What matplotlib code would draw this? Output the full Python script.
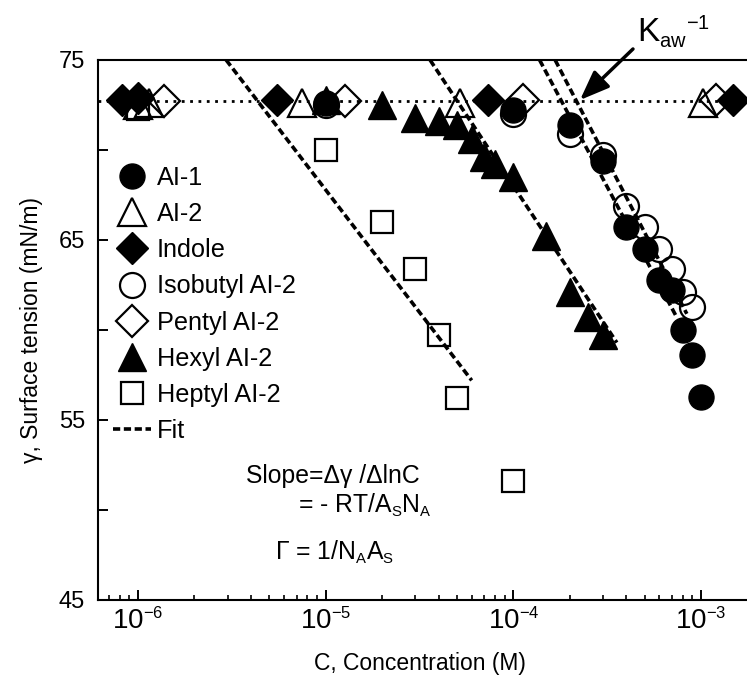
import numpy as np
import matplotlib
matplotlib.use("Agg")
import matplotlib.pyplot as plt
import matplotlib._mathtext as mathtext_internals
from matplotlib.lines import Line2D
from matplotlib.ticker import LogLocator, NullFormatter

plt.rcParams["font.family"] = ["Liberation Sans", "DejaVu Sans"]
plt.rcParams["mathtext.fontset"] = "custom"
plt.rcParams["mathtext.rm"] = "Liberation Sans"
plt.rcParams["mathtext.it"] = "Liberation Sans:italic"
plt.rcParams["mathtext.bf"] = "Liberation Sans:bold"
# smaller sub/superscripts, like the original figure
mathtext_internals.SHRINK_FACTOR = 0.6

# surface tension (mN/m) vs concentration (M)
ai1_c = [1e-5, 1e-4, 2e-4, 3e-4, 4e-4, 5e-4, 6e-4, 7e-4, 8e-4, 9e-4, 1e-3]
ai1_g = [72.6, 72.2, 71.4, 69.4, 65.7, 64.5, 62.8, 62.2, 60.0, 58.6, 56.3]

ai2_c = [1.0e-6, 1.15e-6, 7.5e-6, 5.2e-5, 1.02e-3]
ai2_g = [72.5, 72.6, 72.6, 72.6, 72.6]

indole_c = [8.2e-7, 1.0e-6, 5.5e-6, 7.3e-5, 1.48e-3]
indole_g = [72.8, 72.9, 72.8, 72.8, 72.8]

isobutyl_c = [1e-5, 1e-4, 2e-4, 3e-4, 4e-4, 5e-4, 6e-4, 7e-4, 8e-4, 9e-4]
isobutyl_g = [72.5, 72.0, 70.9, 69.7, 66.9, 65.7, 64.5, 63.4, 62.1, 61.3]

pentyl_c = [1.38e-6, 1.27e-5, 1.13e-4, 1.2e-3]
pentyl_g = [72.7, 72.7, 72.8, 72.8]

hexyl_c = [1e-5, 2e-5, 3e-5, 4e-5, 5e-5, 6e-5, 7e-5, 8e-5, 1e-4, 1.5e-4, 2e-4, 2.5e-4, 3e-4]
hexyl_g = [72.8, 72.5, 71.8, 71.6, 71.4, 70.6, 69.6, 69.2, 68.5, 65.2, 62.1, 60.7, 59.7]

heptyl_c = [1e-6, 1e-5, 2e-5, 3e-5, 4e-5, 5e-5, 1e-4]
heptyl_g = [72.3, 70.0, 66.0, 63.4, 59.7, 56.2, 51.6]

# fitted lines (end points)
fit_heptyl_c = [2.95e-6, 6.0e-5]
fit_heptyl_g = [75.0, 57.2]
fit_hexyl_c = [3.6e-5, 3.56e-4]
fit_hexyl_g = [75.0, 59.3]
fit_ai1_c = [1.38e-4, 7.43e-4]
fit_ai1_g = [75.0, 60.7]
fit_isobutyl_c = [1.67e-4, 8.4e-4]
fit_isobutyl_g = [75.0, 60.9]

water_g = 72.7

fig = plt.figure(figsize=(7.47, 6.88), dpi=100)
ax = fig.add_axes([97.7 / 747, 1 - 600 / 688, (747 - 97.7) / 747, 540 / 688])
ax.set_xscale("log")
ax.set_xlim(6.1e-7, 1.758e-3)
ax.set_ylim(45, 75)

# reference line for pure water
ax.axhline(water_g, color="black", lw=2, linestyle=(0, (1, 2)), zorder=1)

ms_circle = 18
ms_tri = 20
ms_dia = 16
ms_sq = 16
mew = 1.6
k = "black"

ax.plot(hexyl_c, hexyl_g, "^", ms=ms_tri, color=k, zorder=3)
ax.plot(heptyl_c, heptyl_g, "s", ms=ms_sq, mfc="none", mec=k, mew=mew, zorder=3)
ax.plot(isobutyl_c, isobutyl_g, "o", ms=ms_circle, mfc="none", mec=k, mew=mew, zorder=3)
ax.plot(indole_c, indole_g, "D", ms=ms_dia, color=k, zorder=3)
ax.plot(ai2_c, ai2_g, "^", ms=ms_tri, mfc="none", mec=k, mew=mew, zorder=4)
ax.plot(pentyl_c, pentyl_g, "D", ms=ms_dia, mfc="none", mec=k, mew=mew, zorder=4)
ax.plot(ai1_c, ai1_g, "o", ms=ms_circle, color=k, zorder=4)

fit_style = dict(color=k, lw=2.6, linestyle=(0, (2, 1)), zorder=5)
for fc, fg in [(fit_heptyl_c, fit_heptyl_g), (fit_hexyl_c, fit_hexyl_g),
               (fit_ai1_c, fit_ai1_g), (fit_isobutyl_c, fit_isobutyl_g)]:
    ax.plot(fc, fg, **fit_style)

# axes styling
ax.spines["right"].set_visible(False)
for s in ["left", "bottom", "top"]:
    ax.spines[s].set_linewidth(1.5)

ax.set_xticks([1e-6, 1e-5, 1e-4, 1e-3])
ax.set_xticklabels([r"$\mathregular{10^{-6}}$", r"$\mathregular{10^{-5}}$",
                    r"$\mathregular{10^{-4}}$", r"$\mathregular{10^{-3}}$"], fontsize=20)
ax.xaxis.set_minor_locator(LogLocator(base=10, subs=np.arange(2, 10)))
ax.xaxis.set_minor_formatter(NullFormatter())
ax.set_yticks(range(45, 80, 5))
ax.set_yticklabels(["45", "", "55", "", "65", "", "75"], fontsize=17)
ax.tick_params(which="major", direction="in", length=7, width=1.4, top=False, right=False)
ax.tick_params(which="minor", direction="in", length=3.6, width=1.2, top=False, right=False)
ax.tick_params(axis="x", pad=6)
ax.tick_params(axis="y", pad=9)

ax.set_xlabel("C, Concentration (M)", fontsize=16.5, va="center")
ax.xaxis.set_label_coords(0.4964, -0.1167)
ax.set_ylabel("γ, Surface tension (mN/m)", fontsize=16.5, va="center")
ax.yaxis.set_label_coords(-0.1027, 0.5)

# legend
handles = [
    Line2D([], [], marker="o", ls="none", ms=ms_circle, color=k),
    Line2D([], [], marker="^", ls="none", ms=ms_tri, mfc="none", mec=k, mew=mew),
    Line2D([], [], marker="D", ls="none", ms=ms_dia, color=k),
    Line2D([], [], marker="o", ls="none", ms=ms_circle, mfc="none", mec=k, mew=mew),
    Line2D([], [], marker="D", ls="none", ms=ms_dia, mfc="none", mec=k, mew=mew),
    Line2D([], [], marker="^", ls="none", ms=ms_tri, color=k),
    Line2D([], [], marker="s", ls="none", ms=ms_sq, mfc="none", mec=k, mew=mew),
    Line2D([], [], color=k, lw=2.6, linestyle=(0, (2, 1))),
]
labels = ["AI-1", "AI-2", "Indole", "Isobutyl AI-2", "Pentyl AI-2",
          "Hexyl AI-2", "Heptyl AI-2", "Fit"]
ax.legend(handles, labels, loc="upper left", bbox_to_anchor=(0.0236, 0.8037),
          frameon=False, fontsize=18.2, borderpad=0, borderaxespad=0,
          handlelength=1.51, handletextpad=0.23, labelspacing=0.48)

# annotations
ax.text(0.2284, 0.2167, "Slope=Δγ /ΔlnC", transform=ax.transAxes,
        fontsize=17.8, ha="left", va="baseline")
ax.text(0.3085, 0.161, r"= - RT/A$_\mathregular{S}$N$_\mathregular{A}$",
        transform=ax.transAxes, fontsize=17.8, ha="left", va="baseline")
ax.text(0.273, 0.074, r"Γ = 1/N$_\mathregular{A}$A$_\mathregular{S}$",
        transform=ax.transAxes, fontsize=17.8, ha="left", va="baseline")

ax.text(0.8306, 1.0333, r"$\mathregular{{K_{aw}}^{-1}}$", transform=ax.transAxes,
        fontsize=24, ha="left", va="baseline")
ax.annotate("", xy=(0.7428, 0.9259), xycoords="axes fraction",
            xytext=(0.8244, 1.0204), textcoords="axes fraction",
            arrowprops=dict(arrowstyle="-|>,head_length=0.9,head_width=0.35",
                            color=k, lw=2.5, mutation_scale=20,
                            shrinkA=0, shrinkB=0),
            annotation_clip=False)

fig.savefig("out.png", dpi=100)
